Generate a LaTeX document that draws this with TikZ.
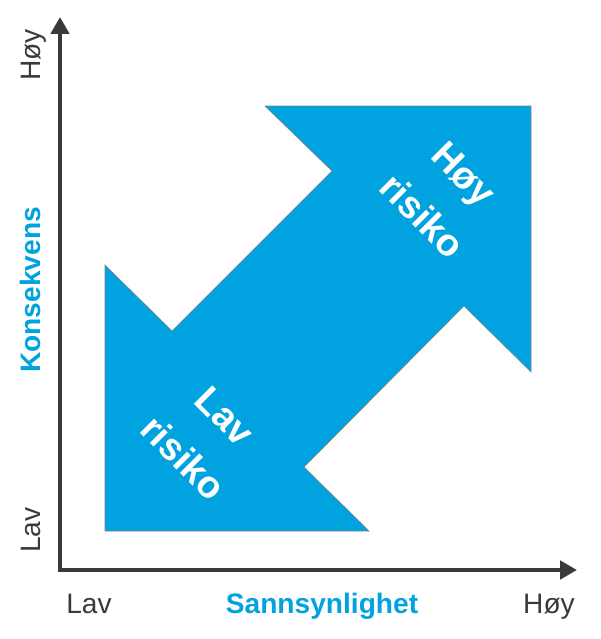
\documentclass[tikz,border=0pt]{standalone}
\usepackage{fontspec}
\setmainfont{Liberation Sans}
\usepackage{tikz}
\usepackage{xcolor}
\usetikzlibrary{arrows.meta}
\definecolor{riskblue}{RGB}{0, 163, 224}
\definecolor{axisgray}{RGB}{58, 58, 58}

\begin{document}
\begin{tikzpicture}[x=0.025cm, y=-0.025cm,
        axis/.style={line width=3.2pt, axisgray, line join=miter},
        tick/.style={axisgray, font=\fontsize{20}{24}\selectfont, anchor=base},
        title/.style={riskblue, font=\bfseries\fontsize{20}{24}\selectfont, anchor=base},
        risktext/.style={white, align=center, rotate=-45, inner sep=0pt, font=\bfseries\fontsize{27}{42}\selectfont}]
            \useasboundingbox (0,0) rectangle (600,639);

            % Double arrow
            \draw[thin, gray, fill=riskblue] (265,106) -- (531,106) -- (531,372) -- (464,306)
                -- (304,467) -- (369,531) -- (105,531) -- (105,265) -- (172,331) -- (332,171) -- cycle;
            \node[risktext] (high) at (443,195) {Høy\\risiko};
            \node[risktext] (low) at (204,437) {Lav\\risiko};

            % Axes
            \coordinate (origin) at (60,570);
            \coordinate (ytop) at (60,17);
            \coordinate (xend) at (577,570);
            \draw[axis, {Triangle[length=0.42cm, width=0.45cm]}-{Triangle[length=0.42cm, width=0.45cm]}]
                (ytop) -- (origin) -- (xend);

            % Axis labels
            \node[tick] (xlow) at (89,613) {Lav};
            \node[tick] (xhigh) at (549,613) {Høy};
            \node[title] (xtitle) at (322,613) {Sannsynlighet};
            \node[tick, rotate=90] (ylow) at (40,530) {Lav};
            \node[tick, rotate=90] (yhigh) at (40,55) {Høy};
            \node[title, rotate=90] (ytitle) at (40,290) {Konsekvens};
        \end{tikzpicture}
\end{document}
